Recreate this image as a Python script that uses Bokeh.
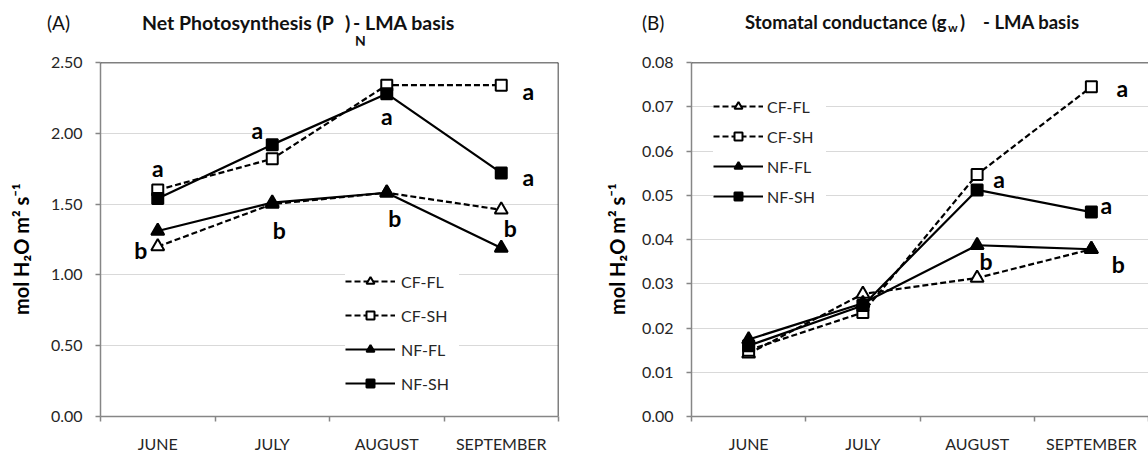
from bokeh.plotting import figure
from bokeh.layouts import row, column
from bokeh.models import (FixedTicker, Span, Legend, LegendItem, Div,
                          NumeralTickFormatter, ColumnDataSource)
from bokeh.embed import file_html
from bokeh.resources import INLINE
from bokeh.core.properties import value

# ---------------- data ----------------
months = ["JUNE", "JULY", "AUGUST", "SEPTEMBER"]
series = ["CF-FL", "CF-SH", "NF-FL", "NF-SH"]

# (A) Net photosynthesis, LMA basis
pn_cf_fl = [1.20, 1.50, 1.58, 1.46]
pn_cf_sh = [1.60, 1.82, 2.34, 2.34]
pn_nf_fl = [1.31, 1.51, 1.58, 1.19]
pn_nf_sh = [1.54, 1.92, 2.28, 1.72]

# (B) Stomatal conductance, LMA basis
gw_cf_fl = [0.0142, 0.0277, 0.0313, 0.0378]
gw_cf_sh = [0.0150, 0.0235, 0.0547, 0.0745]
gw_nf_fl = [0.0174, 0.0256, 0.0387, 0.0378]
gw_nf_sh = [0.0160, 0.0251, 0.0512, 0.0462]

pn_ticks = [0.0, 0.5, 1.0, 1.5, 2.0, 2.5]
gw_ticks = [0.0, 0.01, 0.02, 0.03, 0.04, 0.05, 0.06, 0.07, 0.08]

# significance letters: (month index, series attached to, letter)
pn_letters = [(0, "CF-SH", "a"), (1, "NF-SH", "a"), (2, "NF-SH", "a"),
              (3, "CF-SH", "a"), (3, "NF-SH", "a"),
              (0, "CF-FL", "b"), (1, "CF-FL", "b"), (2, "NF-FL", "b"),
              (3, "CF-FL", "b")]
gw_letters = [(2, "CF-SH", "a"), (3, "CF-SH", "a"), (3, "NF-SH", "a"),
              (2, "NF-FL", "b"), (3, "NF-FL", "b")]

y_label = "mol H\u2082O m\u00b2 s\u207b\u00b9\u00a0\u00a0\u00a0\u00a0"

# ---------------- styling / layout ----------------
pn_letter_offsets = [(0, 22), (-15, 15), (0, -22), (27, -6), (27, -4),
                     (-17, -3), (7, -26), (8, -25), (9, -18)]
gw_letter_offsets = [(22, -5), (31, -1), (15, 7), (9, -16), (27, -15)]

FONT = "Lato"
AXIS_GRAY = "#868686"
GRID_GRAY = "#d9d9d9"
TXT = "#262626"

PW, PH = 574, 410          # each plot canvas
TITLE_H = 45               # title strip above the plots
BT, BB = 17, 37            # top / bottom borders (frame 356 px high)

styles = {
    "CF-FL": dict(dash="6 3", marker="triangle", fill="white", size=13),
    "CF-SH": dict(dash="6 3", marker="square", fill="white", size=11),
    "NF-FL": dict(dash="solid", marker="triangle", fill="black", size=13),
    "NF-SH": dict(dash="solid", marker="square", fill="black", size=11),
}


def make_panel(vals, ticks, ymax, bl, br, ylab_standoff):
    p = figure(width=PW, height=PH, x_range=(0, 4), y_range=(0, ymax),
               output_backend="svg", toolbar_location=None,
               min_border_left=bl, min_border_right=br,
               min_border_top=BT, min_border_bottom=BB)
    p.outline_line_color = None
    p.background_fill_color = "white"
    p.border_fill_color = "white"

    xs = [i + 0.5 for i in range(len(months))]
    xa = p.xaxis[0]
    xa.ticker = FixedTicker(ticks=xs, minor_ticks=list(range(len(months) + 1)))
    xa.major_label_overrides = {x: m for x, m in zip(xs, months)}
    xa.major_tick_line_color = None
    xa.major_tick_out = 0
    xa.major_tick_in = 0
    xa.minor_tick_line_color = AXIS_GRAY
    xa.minor_tick_line_width = 1.5
    xa.minor_tick_out = 5
    xa.minor_tick_in = 0
    xa.axis_line_color = AXIS_GRAY
    xa.axis_line_width = 1.5
    xa.major_label_standoff = 12
    xa.major_label_text_font = FONT
    xa.major_label_text_font_size = "16px"
    xa.major_label_text_color = TXT
    p.xgrid.visible = False

    ya = p.yaxis[0]
    ya.ticker = FixedTicker(ticks=ticks)
    ya.formatter = NumeralTickFormatter(format="0.00")
    ya.major_tick_line_color = AXIS_GRAY
    ya.major_tick_line_width = 1.5
    ya.major_tick_out = 5
    ya.major_tick_in = 0
    ya.minor_tick_line_color = None
    ya.axis_line_color = AXIS_GRAY
    ya.axis_line_width = 1.5
    ya.major_label_standoff = 13
    ya.major_label_text_font = FONT
    ya.major_label_text_font_size = "16px"
    ya.major_label_text_color = TXT
    ya.axis_label = y_label
    ya.axis_label_text_font = FONT
    ya.axis_label_text_font_size = "20px"
    ya.axis_label_text_font_style = "bold"
    ya.axis_label_text_color = "black"
    ya.axis_label_standoff = ylab_standoff
    p.ygrid.ticker = FixedTicker(ticks=ticks[1:-1])
    p.ygrid.grid_line_color = GRID_GRAY
    p.ygrid.grid_line_width = 1.2

    p.add_layout(Span(location=ymax, dimension="width", line_color="black", line_width=1.5))

    lines, marks = {}, {}
    for s in series:
        st = styles[s]
        src = ColumnDataSource(dict(x=xs, y=vals[s]))
        lines[s] = p.line("x", "y", source=src, line_color="black", line_width=2.2,
                          line_dash=st["dash"])
        marks[s] = p.scatter("x", "y", source=src, marker=st["marker"], size=st["size"],
                             fill_color=st["fill"], line_color="black", line_width=2)
    return p, xs, lines, marks


def add_letters(p, xs, vals, letters, offsets, pxx, pxy):
    lx, ly, lt = [], [], []
    for (mi, s, t), (dx, dy) in zip(letters, offsets):
        lx.append(xs[mi] + dx / pxx)
        ly.append(vals[s][mi] + dy / pxy)
        lt.append(t)
    p.text(x=lx, y=ly, text=lt, text_align="center", text_baseline="middle",
           text_font=value(FONT), text_font_style="bold", text_font_size="23px",
           text_color="black")


def add_legend(p, lines, marks, loc, spacing, label_width, standoff):
    items = [LegendItem(label=s, renderers=[lines[s], marks[s]]) for s in series]
    lg = Legend(items=items, location=loc, orientation="vertical", padding=10, margin=0,
                spacing=spacing, glyph_width=50, glyph_height=20, label_height=20,
                label_width=label_width, label_standoff=standoff,
                border_line_color=None, background_fill_color="white",
                background_fill_alpha=1.0, label_text_font=FONT,
                label_text_font_size="16px", label_text_color=TXT)
    p.add_layout(lg)


def span(text, left, top, size, bold=False):
    w = "bold" if bold else "normal"
    return (f'<span style="position:absolute;left:{left}px;top:{top}px;'
            f'font-size:{size}px;line-height:{size}px;font-weight:{w};'
            f'white-space:nowrap;">{text}</span>')


def title_div(parts):
    html = ('<div style="position:relative;width:%dpx;height:%dpx;font-family:Lato;'
            'color:#111111;">' % (PW, TITLE_H)) + "".join(parts) + "</div>"
    return Div(text=html, width=PW, height=TITLE_H, margin=0)


# ---------------- panel A ----------------
pn_vals = {"CF-FL": pn_cf_fl, "CF-SH": pn_cf_sh, "NF-FL": pn_nf_fl, "NF-SH": pn_nf_sh}
pA, xsA, linesA, marksA = make_panel(pn_vals, pn_ticks, 2.5, 100, 16, 15)
pA.segment(x0=[4], y0=[0], x1=[4], y1=[2.5], line_color="black", line_width=1.5)
frame_h = PH - BT - BB
add_letters(pA, xsA, pn_vals, pn_letters, pn_letter_offsets, (PW - 116) / 4, frame_h / 2.5)
add_legend(pA, linesA, marksA, (245, 23), 14, 58, 6)

# ---------------- panel B ----------------
gw_vals = {"CF-FL": gw_cf_fl, "CF-SH": gw_cf_sh, "NF-FL": gw_nf_fl, "NF-SH": gw_nf_sh}
pB, xsB, linesB, marksB = make_panel(gw_vals, gw_ticks, 0.08, 117, 0, 10)
add_letters(pB, xsB, gw_vals, gw_letters, gw_letter_offsets, (PW - 117) / 4, frame_h / 0.08)
add_legend(pB, linesB, marksB, (22, 210), 10, 59, 4)

# ---------------- titles ----------------
tA = title_div([
    span("(A)", 47, 13, 19),
    span("Net Photosynthesis (P", 142, 13, 19.5, True),
    span(")", 345, 13, 19.5, True),
    span("- LMA basis", 353, 13, 19.5, True),
    span("N", 355, 34, 14, True),
])
tB = title_div([
    span("(B)", 68, 13, 19),
    span("Stomatal conductance (g", 171, 13, 18.5, True),
    span("w", 374, 22, 12, True),
    span(")", 386, 13, 18.5, True),
    span("- LMA basis", 409, 13, 18.5, True),
])

layout = column(row(tA, tB, spacing=0), row(pA, pB, spacing=0), spacing=0)
open("out.html", "w").write(file_html(layout, INLINE))
